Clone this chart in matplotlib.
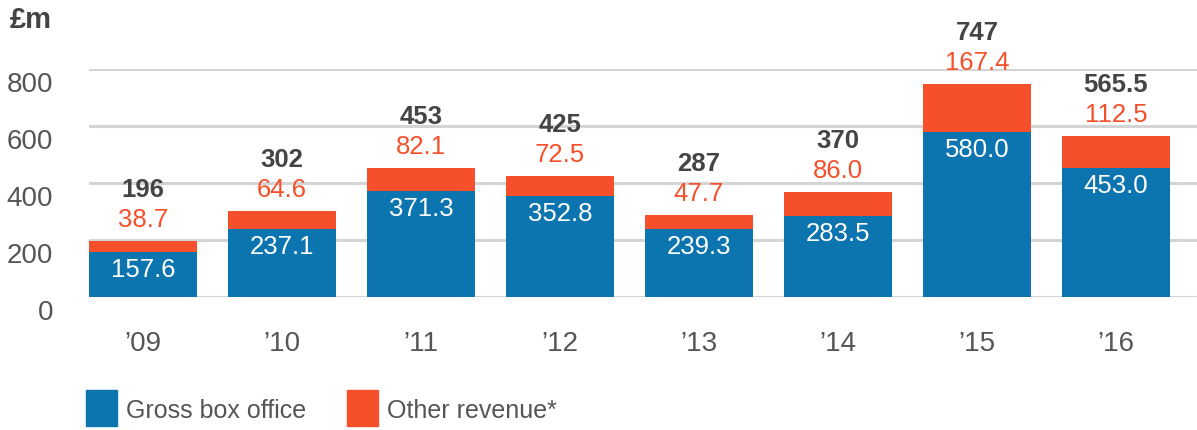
import matplotlib
matplotlib.use("Agg")
import matplotlib.pyplot as plt
import matplotlib.transforms as mtransforms
import numpy as np

# data
years = ["\u201909", "\u201910", "\u201911", "\u201912", "\u201913", "\u201914", "\u201915", "\u201916"]
gross = [157.6, 237.1, 371.3, 352.8, 239.3, 283.5, 580.0, 453.0]
other = [38.7, 64.6, 82.1, 72.5, 47.7, 86.0, 167.4, 112.5]
totals = ["196", "302", "453", "425", "287", "370", "747", "565.5"]
yticks = [0, 200, 400, 600, 800]

BLUE = "#0c74ae"
ORANGE = "#f5502b"
GREY = "#555555"
FONT = "Liberation Sans"

plt.rcParams["font.family"] = [FONT, "DejaVu Sans"]

fig = plt.figure(figsize=(11.97, 4.31), dpi=100)
ax = fig.add_axes([89 / 1197, 133 / 431, 1108 / 1197, 228 / 431])

x = np.arange(len(years))
w = 108 / 139
ax.bar(x, gross, w, color=BLUE, zorder=3)
ax.bar(x, other, w, bottom=gross, color=ORANGE, zorder=3)

ax.set_xlim(-54 / 139, (1197 - 143) / 139)
ax.set_ylim(0, 800)

for yv in yticks:
    ax.axhline(yv, color="#d4d4d4", lw=2.2, zorder=1)

# labels
for i in range(len(years)):
    top = gross[i] + other[i]
    ax.annotate(f"{gross[i]:.1f}", (x[i], gross[i]), xytext=(0, -17), textcoords="offset pixels",
                ha="center", va="center", color="white", fontsize=18.5, zorder=4)
    ax.annotate(f"{other[i]:.1f}", (x[i], top), xytext=(0, 22), textcoords="offset pixels",
                ha="center", va="center", color=ORANGE, fontsize=18.5, annotation_clip=False)
    ax.annotate(totals[i], (x[i], top), xytext=(0, 52), textcoords="offset pixels",
                ha="center", va="center", color="#444444", fontsize=18.5, fontweight="bold",
                annotation_clip=False)

ax.set_yticks(yticks)
ax.set_yticklabels([str(v) for v in yticks])
ax.set_xticks(x)
ax.set_xticklabels(years)
ax.tick_params(axis="y", length=0, pad=26, labelsize=20, labelcolor=GREY)
ax.tick_params(axis="x", length=0, pad=24, labelsize=20, labelcolor=GREY)
# y labels sit a little below their gridlines in the reference
shift = mtransforms.ScaledTranslation(0, -12 / 100, fig.dpi_scale_trans)
for lbl in ax.get_yticklabels():
    lbl.set_transform(lbl.get_transform() + shift)
for s in ax.spines.values():
    s.set_visible(False)

fig.text(10 / 1197, 1 - 20 / 431, "\u00a3m", fontsize=21, fontweight="bold", color="#444444",
         ha="left", va="center")

# legend
fig.patches.append(plt.Rectangle((86 / 1197, 1 - 427 / 431), 31 / 1197, 36 / 431,
                                 transform=fig.transFigure, color=BLUE))
fig.text(126 / 1197, 1 - 411 / 431, "Gross box office", fontsize=18, color=GREY, va="center")
fig.patches.append(plt.Rectangle((347 / 1197, 1 - 427 / 431), 31 / 1197, 36 / 431,
                                 transform=fig.transFigure, color=ORANGE))
fig.text(387 / 1197, 1 - 411 / 431, "Other revenue*", fontsize=18, color=GREY, va="center")

fig.savefig("out.png", dpi=100)
